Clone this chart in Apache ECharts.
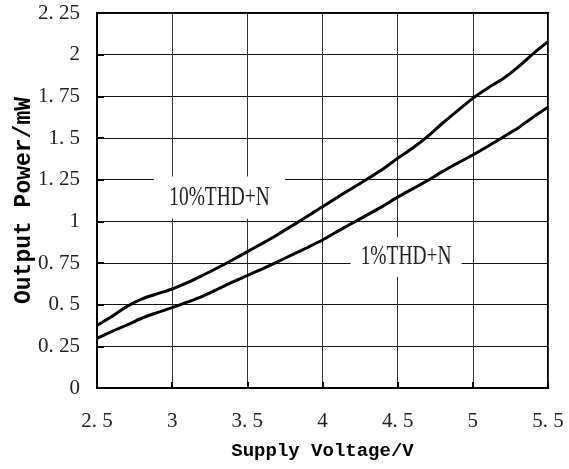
<!DOCTYPE html>
<html>
<head>
<meta charset="utf-8">
<script src="https://cdn.jsdelivr.net/npm/echarts@6/dist/echarts.min.js"></script>
<style>
  html, body { margin: 0; padding: 0; background: #fff; }
  #chart { width: 569px; height: 469px; }
</style>
</head>
<body>
<div id="chart"></div>
<script>
// Supply voltage (V) sample points
const voltage = [2.5, 2.6, 2.7, 2.8, 2.9, 3.0, 3.1, 3.2, 3.3, 3.4, 3.5,
                 3.6, 3.7, 3.8, 3.9, 4.0, 4.1, 4.2, 4.3, 4.4, 4.5,
                 4.6, 4.7, 4.8, 4.9, 5.0, 5.1, 5.2, 5.3, 5.4, 5.5];
// Output power (mW) at 10% THD+N
const thd10 = [0.375, 0.43, 0.49, 0.535, 0.565, 0.594, 0.632, 0.675, 0.72, 0.768, 0.818,
               0.868, 0.92, 0.975, 1.03, 1.088, 1.145, 1.2, 1.255, 1.312, 1.378,
               1.44, 1.51, 1.59, 1.665, 1.738, 1.80, 1.855, 1.925, 2.005, 2.078];
// Output power (mW) at 1% THD+N
const thd1 = [0.298, 0.34, 0.378, 0.42, 0.452, 0.482, 0.515, 0.55, 0.592, 0.635, 0.675,
              0.715, 0.757, 0.8, 0.843, 0.888, 0.94, 0.99, 1.04, 1.09, 1.145,
              1.195, 1.245, 1.3, 1.35, 1.398, 1.45, 1.505, 1.56, 1.625, 1.684];
// Tick labels
const xTickLabels = ['2. 5', '3', '3. 5', '4', '4. 5', '5', '5. 5'];
const yTickLabels = ['0', '0. 25', '0. 5', '0. 75', '1', '1. 25', '1. 5', '1. 75', '2', '2. 25'];
// Curve captions
const seriesNames = ['10%THD+N', '1%THD+N'];

const chart = echarts.init(document.getElementById('chart'), null, { renderer: 'canvas' });

const tickFont = { fontFamily: 'Liberation Serif', fontSize: 21, color: '#222' };
const titleFont = { fontFamily: 'Liberation Mono', fontWeight: 'bold', color: '#000' };

chart.setOption({
  animation: false,
  backgroundColor: '#fff',
  grid: {
    left: 97, right: 21, top: 13, bottom: 81,
    containLabel: false, outerBoundsMode: 'none',
    show: true, borderColor: '#000', borderWidth: 2, backgroundColor: 'transparent'
  },
  xAxis: {
    type: 'value', min: 2.5, max: 5.5, interval: 0.5,
    name: 'Supply Voltage/V', nameLocation: 'middle', nameGap: 54, nameMoveOverlap: false,
    nameTextStyle: Object.assign({ fontSize: 19 }, titleFont),
    axisLine: { show: true, lineStyle: { color: '#000', width: 2 } },
    axisTick: { show: true, inside: true, length: 6, lineStyle: { color: '#000', width: 2 } },
    axisLabel: Object.assign({
      margin: 23,
      formatter: v => xTickLabels[Math.round((v - 2.5) / 0.5)]
    }, tickFont),
    splitLine: { show: true, lineStyle: { color: '#333', width: 1 } }
  },
  yAxis: {
    type: 'value', min: 0, max: 2.25, interval: 0.25,
    name: 'Output Power/mW', nameLocation: 'middle', nameGap: 61, nameRotate: 90,
    nameMoveOverlap: false,
    nameTextStyle: Object.assign({ fontSize: 23 }, titleFont),
    axisLine: { show: true, lineStyle: { color: '#000', width: 2 } },
    axisTick: { show: true, inside: true, length: 7, lineStyle: { color: '#000', width: 2 } },
    axisLabel: Object.assign({
      margin: 17,
      formatter: v => yTickLabels[Math.round(v / 0.25)]
    }, tickFont),
    splitLine: { show: true, lineStyle: { color: '#111', width: 1 } }
  },
  series: [
    {
      name: seriesNames[0], type: 'line', smooth: 0.3, showSymbol: false, z: 3,
      lineStyle: { color: '#000', width: 3 },
      data: voltage.map((v, i) => [v, thd10[i]])
    },
    {
      name: seriesNames[1], type: 'line', smooth: 0.3, showSymbol: false, z: 3,
      lineStyle: { color: '#000', width: 3 },
      data: voltage.map((v, i) => [v, thd1[i]])
    }
  ]
});

// Caption boxes anchored in data coordinates, with white backing over the grid
function caption(text, at, boxW, boxH) {
  const p = chart.convertToPixel({ gridIndex: 0 }, at);
  return {
    type: 'group', x: p[0], y: p[1], z: 10,
    children: [
      { type: 'rect', shape: { x: -boxW / 2, y: -boxH / 2, width: boxW, height: boxH },
        style: { fill: '#fff' }, z: 10 },
      { type: 'text', x: 0, y: 0, scaleX: 0.72, z: 11,
        style: { text: text, x: 0, y: 0, align: 'center', verticalAlign: 'middle',
                 font: '27px "Liberation Serif"', fill: '#222' } }
    ]
  };
}

chart.setOption({
  graphic: [
    caption(seriesNames[0], [3.315, 1.143], 131, 42),
    caption(seriesNames[1], [4.556, 0.786], 111, 40)
  ]
});
</script>
</body>
</html>
